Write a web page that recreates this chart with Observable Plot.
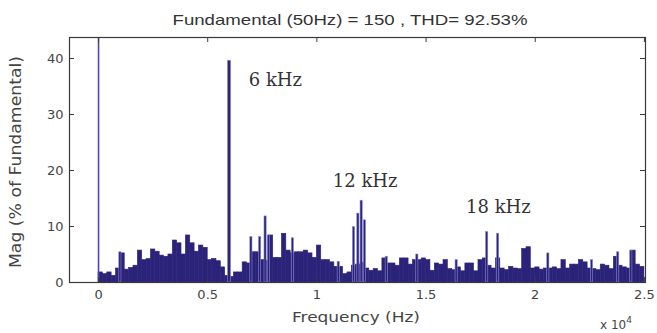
<!DOCTYPE html>
<html>
<head>
<meta charset="utf-8">
<script src="https://cdn.jsdelivr.net/npm/d3@7"></script>
<script src="https://cdn.jsdelivr.net/npm/@observablehq/plot@0.6"></script>
<style>
  html, body { margin: 0; padding: 0; background: #fff; }
  #chart { position: relative; width: 657px; height: 333px; }
</style>
</head>
<body>
<div id="chart"></div>
<script>
// ---- data ----
const titleText = "Fundamental (50Hz) = 150 , THD= 92.53%";
const xLabel = "Frequency (Hz)";
const yLabel = "Mag (% of Fundamental)";
const xTicks = [0, 5000, 10000, 15000, 20000, 25000];
const xTickLabels = ["0", "0.5", "1", "1.5", "2", "2.5"];
const yTicks = [0, 10, 20, 30, 40];

// noise floor, 200 Hz bins starting at 0 Hz
const binStep = 200;
const floorValues = [
  1.8, 1.5, 1.8, 1.2, 2.5, 5.2, 2.3, 2.6, 3.0, 5.7,   // 0 - 1.8 kHz
  4.0, 4.2, 5.9, 5.5, 4.8, 4.6, 5.0, 7.5, 7.0, 5.0,   // 2.0 - 3.8
  8.4, 7.0, 5.5, 6.6, 6.2, 4.0, 4.2, 3.8, 2.7, 1.2,   // 4.0 - 5.8
  1.0, 1.8, 1.8, 3.6, 3.4, 5.4, 5.4, 4.0, 3.9, 8.4,   // 6.0 - 7.8
  4.4, 4.4, 8.7, 5.7, 5.2, 5.4, 5.4, 5.7, 5.2, 4.4,   // 8.0 - 9.8
  6.6, 4.0, 4.0, 3.6, 2.8, 2.8, 1.5, 1.8, 3.0, 3.2,   // 10.0 - 11.8
  3.5, 2.5, 2.1, 2.4, 2.0, 4.3, 3.4, 3.4, 3.0, 4.3,   // 12.0 - 13.8
  4.3, 3.2, 4.0, 4.0, 4.3, 4.0, 2.1, 3.4, 3.2, 4.0,   // 14.0 - 15.8
  2.4, 2.2, 2.7, 2.0, 3.4, 3.4, 2.0, 4.0, 4.3, 3.0,   // 16.0 - 17.8
  2.5, 4.3, 2.5, 2.2, 2.8, 2.5, 2.4, 6.0, 6.3, 2.5,   // 18.0 - 19.8
  2.7, 2.3, 2.5, 2.5, 2.7, 2.4, 4.0, 2.5, 3.2, 3.2,   // 20.0 - 21.8
  4.0, 3.6, 2.5, 2.4, 2.2, 3.2, 3.0, 2.4, 4.6, 3.0,   // 22.0 - 23.8
  2.7, 2.5, 5.7, 3.2, 2.8                             // 24.0 - 24.8
];

// isolated narrow spikes (Hz, % of fundamental)
const spikeFreqs  = [6000, 1000, 7000, 7400, 7650, 7800, 8900, 11000, 11700, 11900, 12050, 12200, 13200, 14600, 16400, 17800, 18300, 20600, 22600, 23800, 24400];
const spikeValues = [39.6, 5.4,  8.1,  8.1,  11.8, 8.4,  7.9,  3.7,   9.9,   12.3,  14.6,  11.1,  4.6,   5.0,   4.0,   9.0,   8.7,   5.2,   4.0,   5.4,   5.7];

// fundamental (100 %) – clipped by the axes
const fundamentalFreq = [0];
const fundamentalValue = [100];

const annotTexts = ["6 kHz", "12 kHz", "18 kHz"];
const annotX = [6880, 10730, 16830];
const annotY = [36.2, 18.0, 13.4];

// ---- build tables ----
const floorData = floorValues.map((v, i) => ({f0: i * binStep, f1: (i + 1) * binStep, v}));
const spikeData = spikeFreqs.map((f, i) => ({f, v: spikeValues[i], w: f === 6000 ? 70 : 50}));
const fundData = fundamentalFreq.map((f, i) => ({f, v: fundamentalValue[i]}));
const annotData = annotTexts.map((t, i) => ({t, x: annotX[i], y: annotY[i]}));
const xTickData = xTicks.map((x, i) => ({x, label: xTickLabels[i]}));

const xMin = -1330, xMax = 25050, yMax = 43.75;
const navy = "#2b2379";
const axisColor = "#3a3a3a";
const textColor = "#444";
const sans = "'DejaVu Sans', 'Liberation Sans', sans-serif";
const tx = (yMax * 5 / 245);          // ~5px tick length in y units
const ty = ((xMax - xMin) * 5 / 576); // ~5px tick length in x units

const chart = Plot.plot({
  width: 657,
  height: 333,
  marginLeft: 69,
  marginRight: 12,
  marginTop: 37,
  marginBottom: 51,
  style: {fontFamily: sans, fontSize: "13px", color: textColor, background: "#fff"},
  x: {domain: [xMin, xMax], axis: null},
  y: {domain: [0, yMax], axis: null},
  marks: [
    Plot.rectY(floorData, {x1: "f0", x2: "f1", y1: 0, y2: "v", fill: navy, stroke: navy, strokeWidth: 0.6}),
    Plot.rectY(spikeData, {x1: d => d.f - d.w, x2: d => d.f + d.w, y1: 0, y2: "v", fill: navy, stroke: "#8b8bd0", strokeWidth: 0.6}),
    Plot.ruleX(fundData, {x: "f", y1: 0, y2: "v", stroke: "#4a4aae", strokeWidth: 1.6, clip: true}),
    // inward ticks (bottom/top, left/right)
    Plot.ruleX(xTicks, {x: d => d, y1: 0, y2: tx, stroke: axisColor}),
    Plot.ruleX(xTicks, {x: d => d, y1: yMax - tx, y2: yMax, stroke: axisColor}),
    Plot.ruleY(yTicks, {y: d => d, x1: xMin, x2: xMin + ty, stroke: axisColor}),
    Plot.ruleY(yTicks, {y: d => d, x1: xMax - ty, x2: xMax, stroke: axisColor}),
    Plot.frame({stroke: axisColor, strokeWidth: 1.2}),
    // tick labels
    Plot.text(xTickData, {x: "x", y: 0, text: "label", dy: 12, fill: textColor, fontSize: 13, ariaLabel: "xticklabels"}),
    Plot.text(yTicks, {x: xMin, y: d => d, text: d => String(d), dx: -6, textAnchor: "end", fill: textColor, fontSize: 13, ariaLabel: "yticklabels"}),
    // annotations
    Plot.text(annotData, {x: "x", y: "y", text: "t", textAnchor: "start", fill: "#333", fontSize: 18, fontFamily: "'DejaVu Serif', 'Liberation Serif', serif"})
  ]
});

document.getElementById("chart").appendChild(chart);
const svg = d3.select(chart);

// widen tick labels horizontally like the reference
svg.selectAll('g[aria-label="xticklabels"] text, g[aria-label="yticklabels"] text').each(function() {
  const w = this.getComputedTextLength();
  d3.select(this).attr("textLength", w * 1.2).attr("lengthAdjust", "spacingAndGlyphs");
});

// title
svg.append("text").attr("x", 350).attr("y", 25).attr("text-anchor", "middle")
  .attr("fill", "#333").attr("font-size", 15).attr("font-family", "'Liberation Sans', Arial, sans-serif")
  .attr("textLength", 355).attr("lengthAdjust", "spacingAndGlyphs")
  .text(titleText);
// x label
svg.append("text").attr("x", 356).attr("y", 322).attr("text-anchor", "middle")
  .attr("fill", textColor).attr("font-size", 14).attr("font-family", sans)
  .attr("textLength", 128).attr("lengthAdjust", "spacingAndGlyphs")
  .text(xLabel);
// y label
svg.append("text").attr("transform", "translate(21,162) rotate(-90)").attr("text-anchor", "middle")
  .attr("fill", textColor).attr("font-size", 15).attr("font-family", sans)
  .attr("textLength", 212).attr("lengthAdjust", "spacingAndGlyphs")
  .text(yLabel);
// exponent
const ex = svg.append("text").attr("x", 600).attr("y", 329).attr("text-anchor", "start")
  .attr("fill", textColor).attr("font-size", 12).attr("font-family", sans);
ex.append("tspan").text("x 10");
ex.append("tspan").attr("dy", -6).attr("font-size", 9).text("4");
</script>
</body>
</html>
